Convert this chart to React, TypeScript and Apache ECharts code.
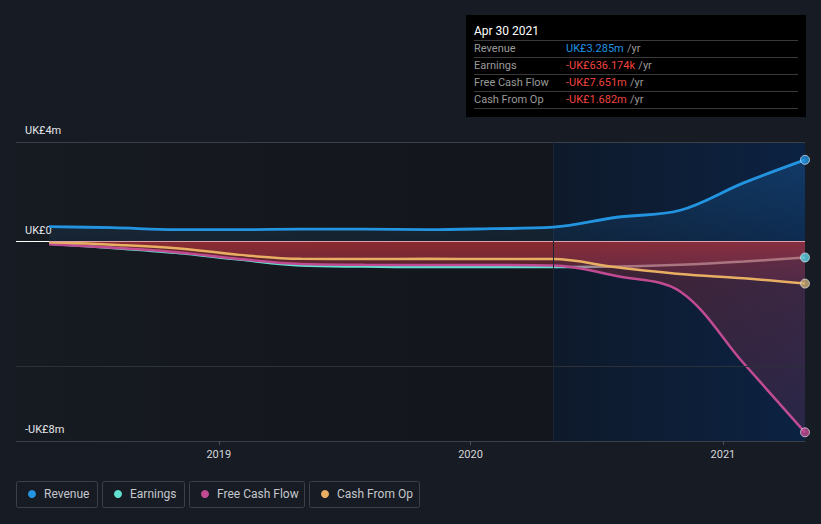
import React, { useEffect, useRef } from "react";
import * as echarts from "echarts";

// ---- data (UK£ millions, trailing twelve months) ----
const DATES = [
  "2018-04-30", "2018-07-31", "2018-10-31", "2019-01-31", "2019-04-30", "2019-07-31",
  "2019-10-31", "2020-01-31", "2020-04-30", "2020-07-31", "2020-10-31", "2021-01-31", "2021-04-30",
];
const REVENUE = [0.6, 0.56, 0.48, 0.48, 0.5, 0.5, 0.48, 0.52, 0.58, 0.98, 1.26, 2.36, 3.285];
const EARNINGS = [-0.08, -0.25, -0.45, -0.72, -0.96, -1.0, -1.02, -1.02, -1.02, -1.0, -0.93, -0.8, -0.636];
const FREE_CASH_FLOW = [-0.1, -0.24, -0.42, -0.7, -0.9, -0.93, -0.94, -0.94, -0.96, -1.38, -2.0, -4.88, -7.651];
const CASH_FROM_OP = [-0.02, -0.12, -0.26, -0.53, -0.69, -0.7, -0.69, -0.7, -0.7, -1.03, -1.3, -1.47, -1.682];

const SERIES_NAMES = ["Revenue", "Earnings", "Free Cash Flow", "Cash From Op"];
const SERIES_COLORS = ["#2394e0", "#62e0d0", "#c04b93", "#e8af62"];

const X_MIN = "2018-03-13";
const PAST_START = "2020-04-30";
const YEAR_TICKS = ["2019-01-01", "2020-01-01", "2021-01-01"];
const Y_MIN = -8;
const Y_MAX = 4;
const Y_INTERVAL = 4;
const Y_LABELS: Record<string, string> = { "4": "UK£4m", "0": "UK£0", "-8": "-UK£8m" };
const GRID_LINES = [4, -5];

const TOOLTIP_TITLE = "Apr 30 2021";
const TOOLTIP_VALUES = ["UK£3.285m", "-UK£636.174k", "-UK£7.651m", "-UK£1.682m"];

const FONT = 'Roboto, "Open Sans", "DejaVu Sans", sans-serif';

const ts = (d: string) => {
  const [y, m, dd] = d.split("-").map(Number);
  return Date.UTC(y, m - 1, dd);
};

const pairs = (vals: number[]) => DATES.map((d, i) => [ts(d), vals[i]]);

export default function App() {
  const ref = useRef<HTMLDivElement>(null);

  useEffect(() => {
    document.body.style.margin = "0";
    if (!ref.current) return;
    const chart = echarts.init(ref.current, undefined, { renderer: "svg" });

    const first = ts(DATES[0]);
    const last = ts(DATES[DATES.length - 1]);
    const f = (ts(PAST_START) - first) / (last - first);

    const redArea = {
      color: new echarts.graphic.LinearGradient(0, 0, 0, 1, [
        { offset: 0, color: "rgba(222,56,62,0.36)" },
        { offset: 1, color: "rgba(200,60,100,0.22)" },
      ]),
    };

    const earningsLine = new echarts.graphic.LinearGradient(0, 0, 1, 0, [
      { offset: 0, color: SERIES_COLORS[1] },
      { offset: f, color: SERIES_COLORS[1] },
      { offset: Math.min(1, f + 0.06), color: "#8c9ba3" },
      { offset: 1, color: "#8c9ba3" },
    ]);

    const seriesData = [REVENUE, EARNINGS, FREE_CASH_FLOW, CASH_FROM_OP];

    // legend boxes (layout only)
    const legendBoxes = [
      { x: 16, w: 81 },
      { x: 102, w: 82 },
      { x: 189, w: 115 },
      { x: 309, w: 110 },
    ];
    const legendGraphics: any[] = [];
    SERIES_NAMES.forEach((name, i) => {
      const b = legendBoxes[i];
      legendGraphics.push({
        type: "rect",
        shape: { x: b.x + 0.5, y: 481.5, width: b.w, height: 26, r: 2 },
        style: { fill: "transparent", stroke: "#3b404a", lineWidth: 1 },
      });
      legendGraphics.push({
        type: "circle",
        shape: { cx: b.x + 16, cy: 494, r: 4 },
        style: { fill: SERIES_COLORS[i] },
      });
      legendGraphics.push({
        type: "text",
        x: b.x + 28,
        y: 494,
        style: { text: name, fill: "#c4c7cd", font: `12px ${FONT}`, verticalAlign: "middle" },
      });
    });

    // tooltip box
    const tipGraphics: any[] = [
      { type: "rect", shape: { x: 466, y: 15, width: 340, height: 102 }, style: { fill: "#000000" } },
      {
        type: "text",
        x: 474,
        y: 31,
        style: { text: TOOLTIP_TITLE, fill: "#ffffff", font: `12px ${FONT}`, verticalAlign: "middle" },
      },
    ];
    const rowY = [48, 65, 82, 99];
    const sepY = [40, 57, 74, 91, 108];
    sepY.forEach((y) =>
      tipGraphics.push({
        type: "line",
        shape: { x1: 474, y1: y + 0.5, x2: 798, y2: y + 0.5 },
        style: { stroke: "#3a3a3a", lineWidth: 1 },
      })
    );
    SERIES_NAMES.forEach((name, i) => {
      tipGraphics.push({
        type: "text",
        x: 474,
        y: rowY[i],
        style: { text: name, fill: "#9a9a9a", font: `11px ${FONT}`, verticalAlign: "middle" },
      });
      tipGraphics.push({
        type: "text",
        x: 566,
        y: rowY[i],
        style: {
          text: `{v|${TOOLTIP_VALUES[i]}} {u|/yr}`,
          verticalAlign: "middle",
          rich: {
            v: { fill: i === 0 ? "#2394e0" : "#f0433f", font: `11px ${FONT}` },
            u: { fill: "#9a9a9a", font: `11px ${FONT}` },
          },
        },
      });
    });

    const lineCommon = { type: "line", symbol: "none", smooth: 0.35 };

    const option: any = {
      animation: false,
      backgroundColor: "#171b23",
      textStyle: { fontFamily: FONT },
      grid: {
        left: 16,
        right: 16,
        top: 142,
        bottom: 83,
        show: true,
        borderWidth: 0,
        backgroundColor: new echarts.graphic.LinearGradient(0, 0, 1, 0, [
          { offset: 0, color: "#161a21" },
          { offset: 1, color: "#111419" },
        ]),
      },
      xAxis: {
        type: "value",
        min: ts(X_MIN),
        max: last,
        axisLine: { show: true, onZero: false, lineStyle: { color: "#3a3f48", width: 1 } },
        axisTick: {
          show: true,
          length: 4,
          lineStyle: { color: "#4a4f58" },
          customValues: YEAR_TICKS.map(ts),
        },
        axisLabel: {
          color: "#d4d6da",
          fontSize: 11,
          margin: 8,
          customValues: YEAR_TICKS.map(ts),
          formatter: (v: number) => String(new Date(v).getUTCFullYear()),
        },
        splitLine: { show: false },
      },
      yAxis: {
        type: "value",
        min: Y_MIN,
        max: Y_MAX,
        interval: Y_INTERVAL,
        axisLine: { show: false },
        axisTick: { show: false },
        splitLine: { show: false },
        axisLabel: {
          inside: true,
          margin: 9,
          color: "#e6e7ea",
          fontSize: 11,
          verticalAlign: "bottom",
          padding: [0, 0, 6, 0],
          showMinLabel: true,
          showMaxLabel: true,
          formatter: (v: number) => Y_LABELS[String(v)] ?? "",
        },
      },
      series: [
        {
          type: "line",
          name: "bg",
          z: 1,
          silent: true,
          symbol: "none",
          data: pairs(REVENUE),
          lineStyle: { width: 0, opacity: 0 },
          markArea: {
            silent: true,
            itemStyle: {
              color: new echarts.graphic.LinearGradient(0, 0, 1, 0, [
                { offset: 0, color: "#0e1a2b" },
                { offset: 1, color: "#0c2242" },
              ]),
            },
            data: [[{ xAxis: ts(PAST_START) }, { xAxis: last }]],
          },
          markLine: {
            silent: true,
            symbol: "none",
            label: { show: false },
            data: [
              ...GRID_LINES.map((v, i) => ({
                yAxis: v,
                lineStyle: { color: i === 0 ? "#3c4049" : "#2b3039", width: 1, type: "solid" },
              })),
              [
                { coord: [ts(X_MIN), 0], lineStyle: { color: "#ffffff", width: 1.2, type: "solid" } },
                { coord: [first, 0] },
              ],
              [
                { coord: [first, 0], lineStyle: { color: "#e9a3a6", width: 1.2, type: "solid" } },
                { coord: [last, 0] },
              ],
              { xAxis: ts(PAST_START), lineStyle: { color: "#1a2535", width: 1, type: "solid" } },
            ],
          },
        },
        {
          ...lineCommon,
          name: SERIES_NAMES[1],
          z: 2,
          data: pairs(EARNINGS),
          lineStyle: { color: earningsLine, width: 2.5 },
          areaStyle: redArea,
        },
        {
          ...lineCommon,
          name: SERIES_NAMES[2],
          z: 3,
          data: pairs(FREE_CASH_FLOW),
          lineStyle: { color: SERIES_COLORS[2], width: 2.5 },
          areaStyle: redArea,
        },
        {
          ...lineCommon,
          name: SERIES_NAMES[3],
          z: 4,
          data: pairs(CASH_FROM_OP),
          lineStyle: { color: SERIES_COLORS[3], width: 2.5 },
          areaStyle: redArea,
        },
        {
          ...lineCommon,
          name: SERIES_NAMES[0],
          z: 5,
          data: pairs(REVENUE),
          lineStyle: { color: SERIES_COLORS[0], width: 2.8 },
          areaStyle: {
            color: new echarts.graphic.LinearGradient(0, 0, 0, 1, [
              { offset: 0, color: "rgba(35,140,230,0.32)" },
              { offset: 1, color: "rgba(35,140,230,0.12)" },
            ]),
          },
        },
        {
          type: "scatter",
          z: 6,
          silent: true,
          symbolSize: 9,
          data: seriesData.map((vals, i) => ({
            value: [last, vals[vals.length - 1]],
            itemStyle: {
              color: i === 1 ? "#5ad2e4" : i === 3 ? "#c9ad78" : SERIES_COLORS[i],
              borderColor: "rgba(230,235,245,0.85)",
              borderWidth: 1,
            },
          })),
        },
      ],
      graphic: [
        ...tipGraphics,
        ...legendGraphics,
        {
          type: "text",
          x: 797,
          y: 153,
          style: {
            text: "Past",
            fill: "#ffffff",
            font: `11px ${FONT}`,
            align: "right",
            verticalAlign: "middle",
          },
        },
      ],
    };

    chart.setOption(option);
    return () => chart.dispose();
  }, []);

  return <div ref={ref} style={{ width: 821, height: 524 }} />;
}
